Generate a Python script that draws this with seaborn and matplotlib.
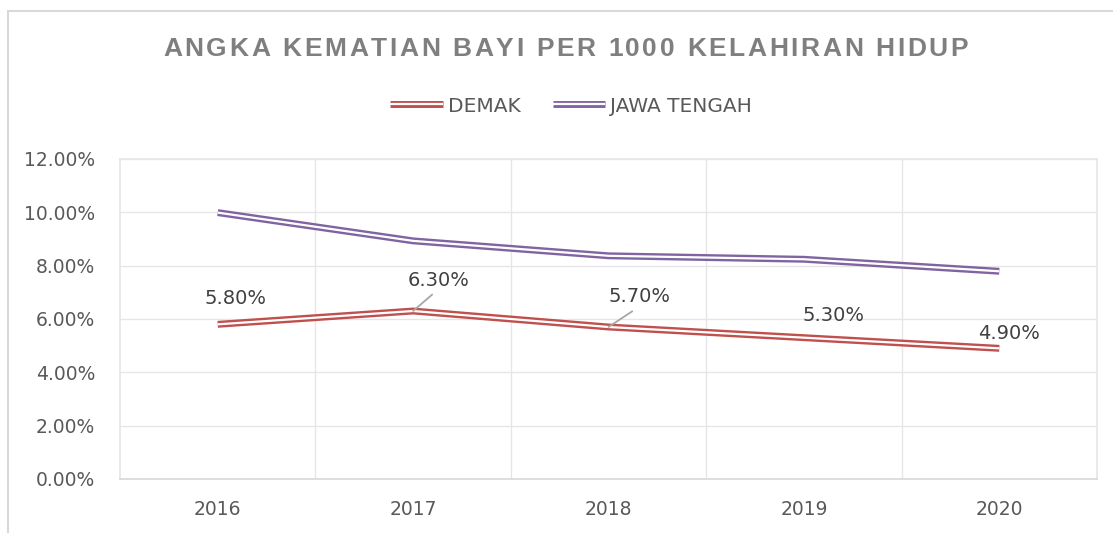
import pandas as pd
import matplotlib
matplotlib.use("Agg")
import matplotlib.pyplot as plt
import seaborn as sns
from matplotlib.lines import Line2D
from matplotlib.patches import Rectangle
from matplotlib.legend_handler import HandlerTuple
from matplotlib.textpath import text_to_path
from matplotlib.font_manager import FontProperties

years = ["2016", "2017", "2018", "2019", "2020"]
demak = [5.8, 6.3, 5.7, 5.3, 4.9]
jateng = [9.99, 8.93, 8.37, 8.24, 7.79]
series_names = ["DEMAK", "JAWA TENGAH"]
series_colors = ["#C0504D", "#8064A2"]
label_text = ["5.80%", "6.30%", "5.70%", "5.30%", "4.90%"]
title = "ANGKA KEMATIAN BAYI PER 1000 KELAHIRAN HIDUP"

df = pd.DataFrame({
    "tahun": years * 2,
    "nilai": demak + jateng,
    "seri": [series_names[0]] * 5 + [series_names[1]] * 5,
})
df["pos"] = df["tahun"].map({y: i for i, y in enumerate(years)})

sns.set_theme(style="white")
plt.rcParams["font.family"] = ["DejaVu Sans"]

fig = plt.figure(figsize=(11.13, 5.33), dpi=100)
ax = fig.add_axes([120 / 1113, 1 - 479 / 533, (1097 - 120) / 1113, (479 - 159) / 533])

# double line look: thick coloured line with a thin white line on top
palette = dict(zip(series_names, series_colors))
sns.lineplot(data=df, x="pos", y="nilai", hue="seri", palette=palette,
             linewidth=5.0, solid_capstyle="butt", legend=False, ax=ax, zorder=3)
sns.lineplot(data=df, x="pos", y="nilai", hue="seri",
             palette={s: "white" for s in series_names},
             linewidth=1.6, solid_capstyle="butt", legend=False, ax=ax, zorder=4)

ax.set_xlim(-0.5, 4.5)
ax.set_ylim(0, 12)
ax.set_yticks(range(0, 13, 2))
ax.set_yticklabels([f"{v:.2f}%" for v in range(0, 13, 2)])
ax.set_xticks(range(5))
ax.set_xticklabels(years)
ax.set_xticks([0.5, 1.5, 2.5, 3.5], minor=True)
ax.grid(True, axis="y", color="#E6E6E6", linewidth=1)
ax.grid(True, axis="x", which="minor", color="#E6E6E6", linewidth=1)
ax.grid(False, axis="x", which="major")
ax.set_xlabel("")
ax.set_ylabel("")
ax.tick_params(axis="both", which="both", length=0, colors="#595959", labelsize=13.5)
ax.tick_params(axis="y", pad=18)
ax.tick_params(axis="x", pad=15)
for side in ["top", "right", "left"]:
    ax.spines[side].set_color("#E6E6E6")
ax.spines["bottom"].set_color("#D9D9D9")

# data labels for DEMAK
offsets = [(18, 26), (25, 31), (31, 30), (30, 22), (10, 15)]
leader = [False, True, True, False, False]
for i, (txt, off) in enumerate(zip(label_text, offsets)):
    props = None
    if leader[i]:
        props = dict(arrowstyle="-", color="#A6A6A6", lw=1.3,
                     relpos=(0.5, 0.0), shrinkA=2, shrinkB=0)
    ax.annotate(txt, xy=(i, demak[i]), xytext=off, textcoords="offset pixels",
                ha="center", va="center", fontsize=14, color="#404040",
                arrowprops=props, zorder=5)

# spaced-out title, drawn letter by letter
fp = FontProperties(family="Liberation Sans", weight="bold", size=19)
widths = []
for ch in title:
    w, h, d = text_to_path.get_text_width_height_descent(ch, fp, ismath=False)
    widths.append(w / 72 * fig.dpi)
x0, x1 = 163, 968
gap = (x1 - x0 - sum(widths)) / (len(title) - 1)
x = x0
for ch, w in zip(title, widths):
    fig.text(x / 1113, 1 - 49 / 533, ch, fontproperties=fp, color="#7F7F7F",
             ha="left", va="center")
    x += w + gap

handles = []
for c in series_colors:
    handles.append((Line2D([], [], color=c, lw=5.0, solid_capstyle="butt"),
                    Line2D([], [], color="white", lw=1.6, solid_capstyle="butt")))
fig.legend(handles, series_names, loc="center",
           bbox_to_anchor=(571 / 1113, 1 - 106 / 533),
           ncol=2, frameon=False, fontsize=14.5, labelcolor="#595959",
           handlelength=2.6, handletextpad=0.25, columnspacing=1.6,
           handler_map={tuple: HandlerTuple(ndivide=1, pad=0)})

fig.patches.append(Rectangle((8 / 1113, -0.1), 1.2, 1.1 - 11 / 533,
                             transform=fig.transFigure, fill=False,
                             edgecolor="#D9D9D9", linewidth=1.5))

fig.savefig("out.png", dpi=100)
